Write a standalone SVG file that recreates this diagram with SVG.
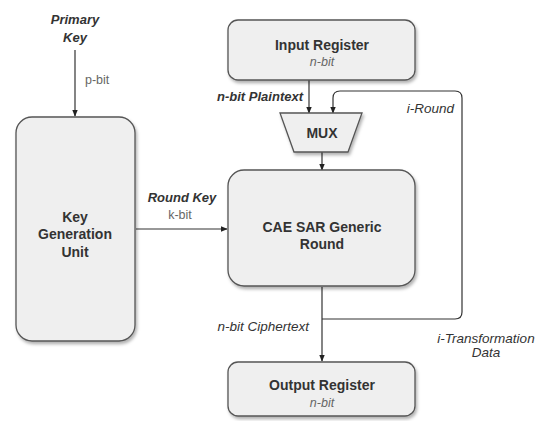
<svg xmlns="http://www.w3.org/2000/svg" width="550" height="421" viewBox="0 0 550 421">
<defs>
  <filter id="sh" x="-10%" y="-10%" width="125%" height="130%">
    <feDropShadow dx="1.5" dy="2.5" stdDeviation="1.5" flood-color="#000" flood-opacity="0.3"/>
  </filter>
  <marker id="ar" viewBox="0 0 10 10" refX="9" refY="5" markerWidth="7" markerHeight="7" orient="auto" markerUnits="userSpaceOnUse">
    <path d="M0,1 L10,5 L0,9 Z" fill="#222"/>
  </marker>
</defs>
<style>
  .box{fill:#efefef;stroke:#555;stroke-width:1.3;filter:url(#sh)}
  .t{font-family:"Liberation Sans",Arial,sans-serif;fill:#333;text-anchor:middle}
  .b{font-weight:bold;font-size:14px}
  .s{font-size:12.5px;fill:#666}
  .i{font-style:italic;font-weight:bold;font-size:13px}
  .ii{font-style:italic;font-size:13.5px}
  .c{fill:none;stroke:#333;stroke-width:1.2}
</style>
<g id="connectors">
  <path class="c" d="M75,50 V116" marker-end="url(#ar)"/>
  <path class="c" d="M136,229 H227" marker-end="url(#ar)"/>
  <path class="c" d="M309,80 V113" marker-end="url(#ar)"/>
  <path class="c" d="M322,319 H455 Q462,319 462,312 V98 Q462,91 455,91 H340 Q333,91 333,98 V113" marker-end="url(#ar)"/>
  <path class="c" d="M322,152 V170" marker-end="url(#ar)"/>
  <path class="c" d="M322,287 V361" marker-end="url(#ar)"/>
</g>
<g id="primary-key">
  <text class="t i" x="75" y="24" font-size="14">Primary</text>
  <text class="t i" x="75" y="42" font-size="14">Key</text>
  <text class="t s" x="85" y="84" style="text-anchor:start">p-bit</text>
</g>
<g id="key-generation-unit">
  <rect class="box" x="16" y="117" width="119" height="224" rx="16"/>
  <text class="t b" x="75" y="222">Key</text>
  <text class="t b" x="75" y="239">Generation</text>
  <text class="t b" x="75" y="257">Unit</text>
</g>
<g id="round-key-label">
  <text class="t i" x="182" y="202">Round Key</text>
  <text class="t s" x="180" y="219">k-bit</text>
</g>
<g id="input-register">
  <rect class="box" x="228" y="20" width="187" height="60" rx="10"/>
  <text class="t b" x="322" y="50">Input Register</text>
  <text class="t s" x="322" y="66" font-style="italic">n-bit</text>
</g>
<g id="plaintext-label">
  <text class="t i" x="303" y="101" style="text-anchor:end">n-bit Plaintext</text>
</g>
<g id="i-round-label">
  <text class="t ii" x="454" y="113" style="text-anchor:end">i-Round</text>
</g>
<g id="mux">
  <path class="box" d="M280,113 H362 L348,152 H294 Z"/>
  <text class="t b" x="322" y="138">MUX</text>
</g>
<g id="caesar-round">
  <rect class="box" x="228" y="170" width="187" height="116" rx="16"/>
  <text class="t b" x="322" y="232">CAE SAR Generic</text>
  <text class="t b" x="322" y="249">Round</text>
</g>
<g id="ciphertext-label">
  <text class="t ii" x="309" y="331" style="text-anchor:end">n-bit Ciphertext</text>
</g>
<g id="transformation-label">
  <text class="t ii" x="486" y="343">i-Transformation</text>
  <text class="t ii" x="486" y="357">Data</text>
</g>
<g id="output-register">
  <rect class="box" x="228" y="362" width="187" height="54" rx="10"/>
  <text class="t b" x="322" y="390">Output Register</text>
  <text class="t s" x="322" y="407" font-style="italic">n-bit</text>
</g>
</svg>
